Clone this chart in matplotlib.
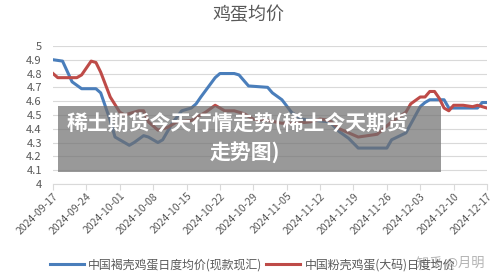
import pandas as pd
import matplotlib
matplotlib.use("Agg")
import matplotlib.pyplot as plt
import matplotlib.dates as mdates
from matplotlib.patches import Rectangle

plt.rcParams['font.family'] = ['Noto Sans CJK SC', 'DejaVu Sans']

# brown shell eggs (blue line)
brown_dates = ["2024-09-17", "2024-09-19", "2024-09-21", "2024-09-23", "2024-09-26",
               "2024-09-27", "2024-09-29", "2024-09-30", "2024-10-03", "2024-10-04",
               "2024-10-06", "2024-10-07", "2024-10-09", "2024-10-10", "2024-10-12",
               "2024-10-14", "2024-10-16", "2024-10-17", "2024-10-18", "2024-10-21",
               "2024-10-22", "2024-10-25", "2024-10-26", "2024-10-28", "2024-11-01",
               "2024-11-02", "2024-11-04", "2024-11-06", "2024-11-08", "2024-11-11",
               "2024-11-14", "2024-11-16", "2024-11-18", "2024-11-20", "2024-11-26",
               "2024-11-27", "2024-11-30", "2024-12-03", "2024-12-04", "2024-12-05",
               "2024-12-08", "2024-12-09", "2024-12-15", "2024-12-16", "2024-12-17"]
brown_price = [4.90, 4.89, 4.74, 4.69, 4.69,
               4.66, 4.46, 4.34, 4.28, 4.30,
               4.35, 4.34, 4.30, 4.32, 4.44,
               4.53, 4.55, 4.58, 4.63, 4.77,
               4.80, 4.80, 4.79, 4.71, 4.70,
               4.66, 4.61, 4.52, 4.47, 4.46,
               4.45, 4.38, 4.33, 4.26, 4.26,
               4.32, 4.37, 4.56, 4.59, 4.61,
               4.61, 4.55, 4.55, 4.59, 4.59]

# pink shell eggs, large (red line)
pink_dates = ["2024-09-17", "2024-09-18", "2024-09-22", "2024-09-23", "2024-09-25",
              "2024-09-26", "2024-09-27", "2024-09-29", "2024-10-01", "2024-10-02",
              "2024-10-05", "2024-10-06", "2024-10-07", "2024-10-09", "2024-10-11",
              "2024-10-13", "2024-10-16", "2024-10-17", "2024-10-18", "2024-10-19",
              "2024-10-21", "2024-10-23", "2024-10-25", "2024-10-27", "2024-10-29",
              "2024-11-01", "2024-11-04", "2024-11-07", "2024-11-10", "2024-11-12",
              "2024-11-14", "2024-11-16", "2024-11-18", "2024-11-20", "2024-11-22",
              "2024-11-24", "2024-11-25", "2024-11-27", "2024-11-30", "2024-12-01",
              "2024-12-03", "2024-12-04", "2024-12-05", "2024-12-06", "2024-12-07",
              "2024-12-08", "2024-12-09", "2024-12-10", "2024-12-12", "2024-12-14",
              "2024-12-15", "2024-12-16", "2024-12-17"]
pink_price = [4.80, 4.77, 4.77, 4.79, 4.89,
              4.88, 4.81, 4.63, 4.52, 4.50,
              4.53, 4.53, 4.45, 4.39, 4.41,
              4.45, 4.46, 4.48, 4.50, 4.52,
              4.57, 4.53, 4.53, 4.51, 4.47,
              4.46, 4.44, 4.44, 4.45, 4.47,
              4.46, 4.40, 4.37, 4.34, 4.35,
              4.36, 4.39, 4.45, 4.52, 4.58,
              4.63, 4.63, 4.67, 4.67, 4.62,
              4.55, 4.53, 4.57, 4.57, 4.56,
              4.57, 4.56, 4.55]

tick_dates = ["2024-09-17", "2024-09-24", "2024-10-01", "2024-10-08", "2024-10-15",
              "2024-10-22", "2024-10-29", "2024-11-05", "2024-11-12", "2024-11-19",
              "2024-11-26", "2024-12-03", "2024-12-10", "2024-12-17"]
y_ticks = [4, 4.1, 4.2, 4.3, 4.4, 4.5, 4.6, 4.7, 4.8, 4.9, 5]

txt = "#595959"
fig = plt.figure(figsize=(5, 2.8), dpi=100)
ax = fig.add_axes([0.106, 0.343, 0.868, 0.493])

ax.plot(pd.to_datetime(brown_dates), brown_price, color="#4a7ebb", lw=2.2,
        label="中国褐壳鸡蛋日度均价(现款现汇)", solid_joinstyle="round")
ax.plot(pd.to_datetime(pink_dates), pink_price, color="#be4b48", lw=2.2,
        label="中国粉壳鸡蛋(大码)日度均价", solid_joinstyle="round")

ticks = pd.to_datetime(tick_dates)
ax.set_xlim(ticks[0], ticks[-1])
ax.set_ylim(4, 5)
ax.set_xticks(ticks)
ax.xaxis.set_major_formatter(mdates.DateFormatter("%Y-%m-%d"))
ax.set_yticks(y_ticks)
ax.set_yticklabels(["%g" % v for v in y_ticks])
ax.grid(axis="y", color="#d9d9d9", lw=0.8)
ax.set_axisbelow(True)
for s in ["top", "right", "left"]:
    ax.spines[s].set_visible(False)
ax.spines["bottom"].set_color("#d9d9d9")
ax.tick_params(axis="y", length=0, labelsize=8, colors=txt, pad=8)
ax.tick_params(axis="x", length=4, color="#d9d9d9", labelsize=7.5, labelcolor=txt, pad=1)
for lab in ax.get_xticklabels():
    lab.set_rotation(45)
    lab.set_ha("right")
    lab.set_rotation_mode("anchor")

fig.text(0.496, 0.945, "鸡蛋均价", ha="center", va="center", fontsize=13, color=txt)

fig.legend(loc="center", bbox_to_anchor=(0.505, 0.053), ncol=2, frameon=False,
           fontsize=8.6, labelcolor=txt, handlelength=2.8, columnspacing=0.3,
           handletextpad=0.4)

fig.text(0.9, 0.065, "知乎 @月明", ha="center", va="center", fontsize=9.5,
         color="#a0a0a0", alpha=0.8)

# overlay banner
fig.patches.append(Rectangle((0.116, 0.386), 0.766, 0.236, transform=fig.transFigure,
                             facecolor="#6e6e6e", alpha=0.7, edgecolor="none", zorder=5))
fig.text(0.134, 0.557, "稀土期货今天行情走势(稀土今天期货", ha="left", va="center",
         fontsize=15, fontweight="heavy", color="white", zorder=6)
fig.text(0.49, 0.457, "走势图)", ha="center", va="center",
         fontsize=15, fontweight="heavy", color="white", zorder=6)

fig.savefig("out.png", dpi=100)
